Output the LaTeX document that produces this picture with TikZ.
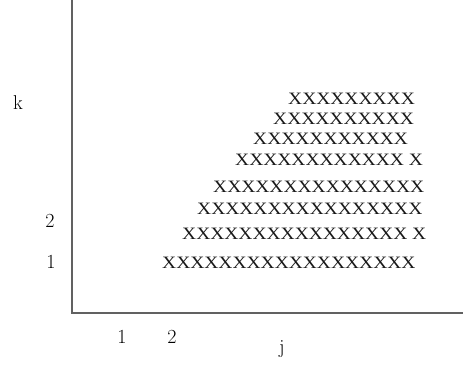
\documentclass[tikz,border=0pt]{standalone}
\usepackage{fontspec}
\newfontfamily\xfont[FakeStretch=1.12]{Liberation Serif}
\begin{document}
\begin{tikzpicture}[x=1pt,y=-1pt,
  axis/.style={draw=black!62,line width=1.4pt},
  lab/.style={inner sep=0pt,font=\fontsize{20}{20}\selectfont},
  xrow/.style={inner sep=0pt,anchor=base west,text=black!90,font=\xfont\fontsize{17.4}{17.4}\selectfont}]
\useasboundingbox (0,0) rectangle (463,367);
\coordinate (top) at (72,0);
\coordinate (origin) at (72,313);
\coordinate (right) at (463,313);
\draw[axis] (top) -- (origin) -- (right);
\node[lab] (k) at (18,103) {k};
\node[lab] (k2) at (50,221) {2};
\node[lab] (k1) at (51,262) {1};
\node[lab] (j1) at (122,337) {1};
\node[lab] (j2) at (172,337) {2};
\node[lab] (j) at (282,349) {j};
\node[xrow] (r1) at (162,268) {XXXXXXXXXXXXXXXXXX};
\node[xrow] (r2) at (182,239) {XXXXXXXXXXXXXXXX X};
\node[xrow] (r3) at (197,214) {XXXXXXXXXXXXXXXX};
\node[xrow] (r4) at (213,192) {XXXXXXXXXXXXXXX};
\node[xrow] (r5) at (235,165) {XXXXXXXXXXXX X};
\node[xrow] (r6) at (253,144) {XXXXXXXXXXX};
\node[xrow] (r7) at (273,124) {XXXXXXXXXX};
\node[xrow] (r8) at (288,104) {XXXXXXXXX};
\end{tikzpicture}
\end{document}
